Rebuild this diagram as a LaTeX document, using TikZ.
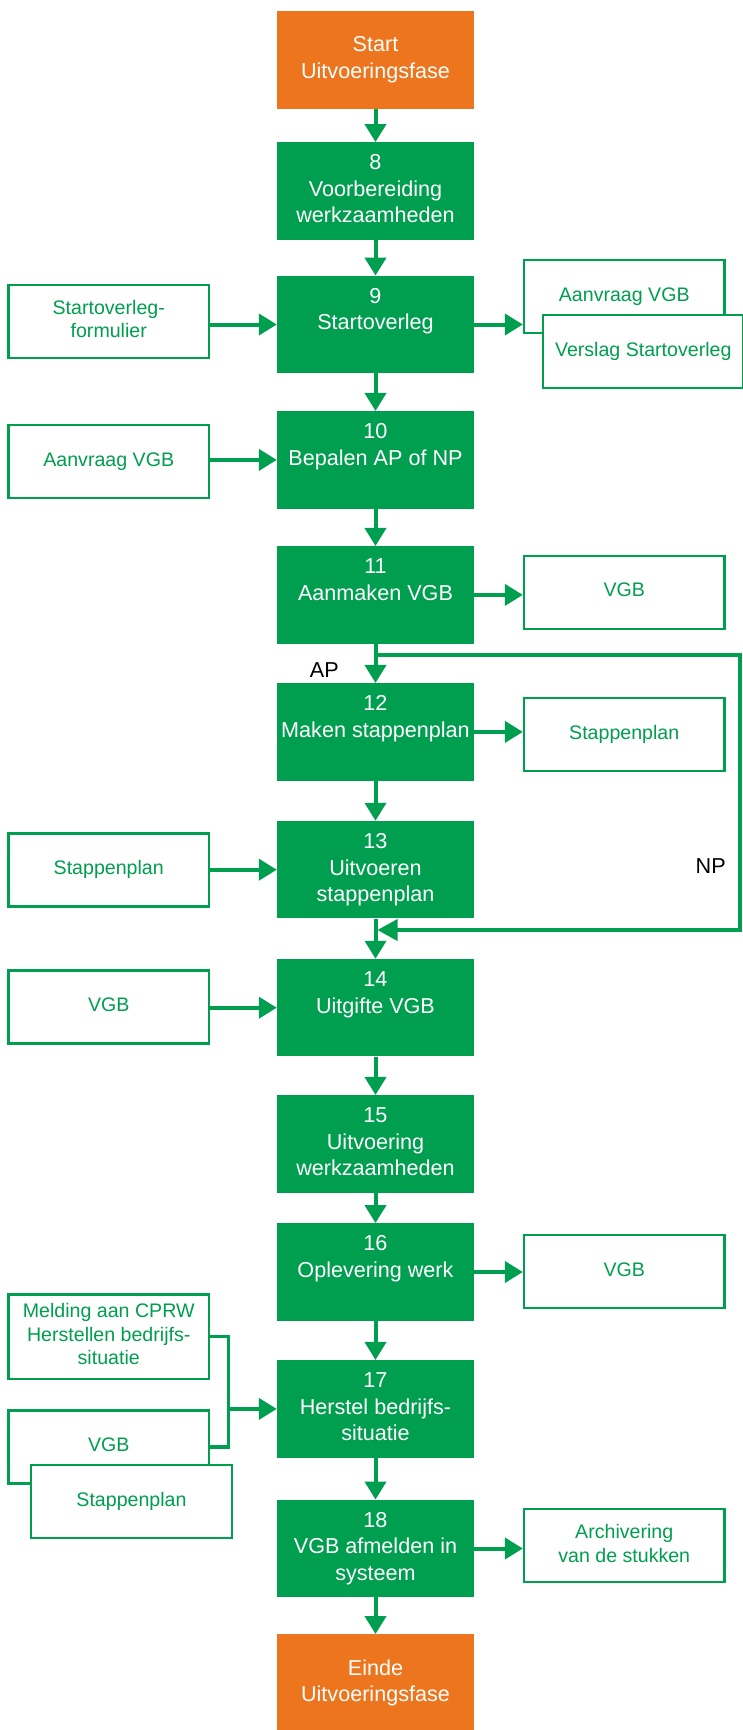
\documentclass[tikz,border=0pt]{standalone}
\usepackage{fontspec}
\setmainfont{Liberation Sans}
\usetikzlibrary{arrows.meta,calc}
\definecolor{vgreen}{RGB}{0,158,79}
\definecolor{vorange}{RGB}{237,117,30}
\newcommand\mfnt{\fontsize{21.6}{26.6}\selectfont}
\newcommand\wfnt{\fontsize{19.6}{23.5}\selectfont}
\begin{document}
\begin{tikzpicture}[x=1pt,y=-1pt,
  mainbox/.style={fill=vgreen, draw=none, minimum width=197pt, minimum height=97.5pt, inner sep=0pt, text=white, align=center, font=\mfnt},
  endbox/.style={mainbox, fill=vorange},
  docbox/.style={draw=vgreen, line width=2.3pt, fill=white, minimum width=200.5pt, minimum height=73pt, inner sep=0pt, text=vgreen, align=center, font=\wfnt},
  flow/.style={draw=vgreen, line width=4pt, -{Triangle[length=18pt,width=21pt]}},
  bracket/.style={draw=vgreen, line width=3.5pt},
  loopline/.style={draw=vgreen, line width=3.7pt, -{Triangle[length=20pt,width=21pt]}},
  lbl/.style={font=\mfnt, text=black, inner sep=0pt}
]
\useasboundingbox (0,0) rectangle (742,1730);

% main column
\node[endbox]  (start) at (375.5,59.9)  {\strut Start\\\strut Uitvoeringsfase};
\node[mainbox] (b8)  at (375.5,191)    {\strut 8\\\strut Voorbereiding\\\strut werkzaamheden};
\node[mainbox] (b9)  at (375.5,324.5)  {\strut 9\\\strut Startoverleg\\\strut};
\node[mainbox] (b10) at (375.5,459.9)  {\strut 10\\\strut Bepalen AP of NP\\\strut};
\node[mainbox] (b11) at (375.5,594.9)  {\strut 11\\\strut Aanmaken VGB\\\strut};
\node[mainbox] (b12) at (375.5,731.9)  {\strut 12\\\strut Maken stappenplan\\\strut};
\node[mainbox] (b13) at (375.5,869.7)  {\strut 13\\\strut Uitvoeren\\\strut stappenplan};
\node[mainbox] (b14) at (375.5,1007.7) {\strut 14\\\strut Uitgifte VGB\\\strut};
\node[mainbox] (b15) at (375.5,1143.9) {\strut 15\\\strut Uitvoering\\\strut werkzaamheden};
\node[mainbox] (b16) at (375.5,1272)   {\strut 16\\\strut Oplevering werk\\\strut};
\node[mainbox] (b17) at (375.5,1408.9) {\strut 17\\\strut Herstel bedrijfs-\\\strut situatie};
\node[mainbox] (b18) at (375.5,1548.5) {\strut 18\\\strut VGB afmelden in\\\strut systeem};
\node[endbox]  (einde) at (375.5,1683) {\strut Einde\\\strut Uitvoeringsfase};

% document boxes left
\node[docbox] (lf9)  at (108.75,321.4) {\strut Startoverleg-\\\strut formulier};
\node[docbox] (lf10) at (108.75,461.7) {\strut Aanvraag VGB};
\node[docbox] (lf13) at (108.75,870)   {\strut Stappenplan};
\node[docbox] (lf14) at (108.75,1007)  {\strut VGB};
\node[docbox, minimum height=84.7pt] (lf17a) at (108.75,1336.7) {\strut Melding aan CPRW\\\strut Herstellen bedrijfs-\\\strut situatie};
\node[docbox] (lf17b) at (108.75,1447) {\strut VGB};
\node[docbox] (lf17c) at (131.5,1501.5) {\strut Stappenplan};

% document boxes right
\node[docbox] (rt9a) at (624.25,296.7) {\strut Aanvraag VGB};
\node[docbox] (rt9b) at (643.25,351.3) {\strut Verslag Startoverleg};
\node[docbox] (rt11) at (624.25,592.2) {\strut VGB};
\node[docbox] (rt12) at (624.25,734.4) {\strut Stappenplan};
\node[docbox] (rt16) at (624.25,1271.7) {\strut VGB};
\node[docbox] (rt18) at (624.25,1545.7) {\strut Archivering\\\strut van de stukken};

% main flow
\draw[flow] (start) -- (b8);
\draw[flow] (b8) -- (b9);
\draw[flow] (b9) -- (b10);
\draw[flow] (b10) -- (b11);
\draw[flow] (b11) -- (b12);
\draw[flow] (b12) -- (b13);
\draw[flow] (b13) -- (b14);
\draw[flow] (b14) -- (b15);
\draw[flow] (b15) -- (b16);
\draw[flow] (b16) -- (b17);
\draw[flow] (b17) -- (b18);
\draw[flow] (b18) -- (einde);

% inputs
\draw[flow] (lf9.east |- b9.west) -- (b9.west);
\draw[flow] (lf10.east |- b10.west) -- (b10.west);
\draw[flow] (lf13.east |- b13.west) -- (b13.west);
\draw[flow] (lf14.east |- b14.west) -- (b14.west);
\coordinate (brX) at (228.6,1408.9);
\draw[bracket] (lf17a.east) -| (brX) |- (lf17b.east);
\draw[flow] (brX) -- (b17.west);

% outputs
\draw[flow] (b9.east) -- (b9.east -| rt9a.west);
\draw[flow] (b11.east) -- (b11.east -| rt11.west);
\draw[flow] (b12.east) -- (b12.east -| rt12.west);
\draw[flow] (b16.east) -- (b16.east -| rt16.west);
\draw[flow] (b18.east) -- (b18.east -| rt18.west);

% NP bypass
\coordinate (npA) at ($(b11.south)+(0,11)$);
\coordinate (npC) at (740,930);
\coordinate (npD) at (377.5,930);
\draw[loopline] (npA) -- (npA -| npC) -- (npC) -- (npD);

\node[lbl] (ap) at (324.3,670) {AP};
\node[lbl] (np) at (710.7,865.7) {NP};
\end{tikzpicture}
\end{document}
